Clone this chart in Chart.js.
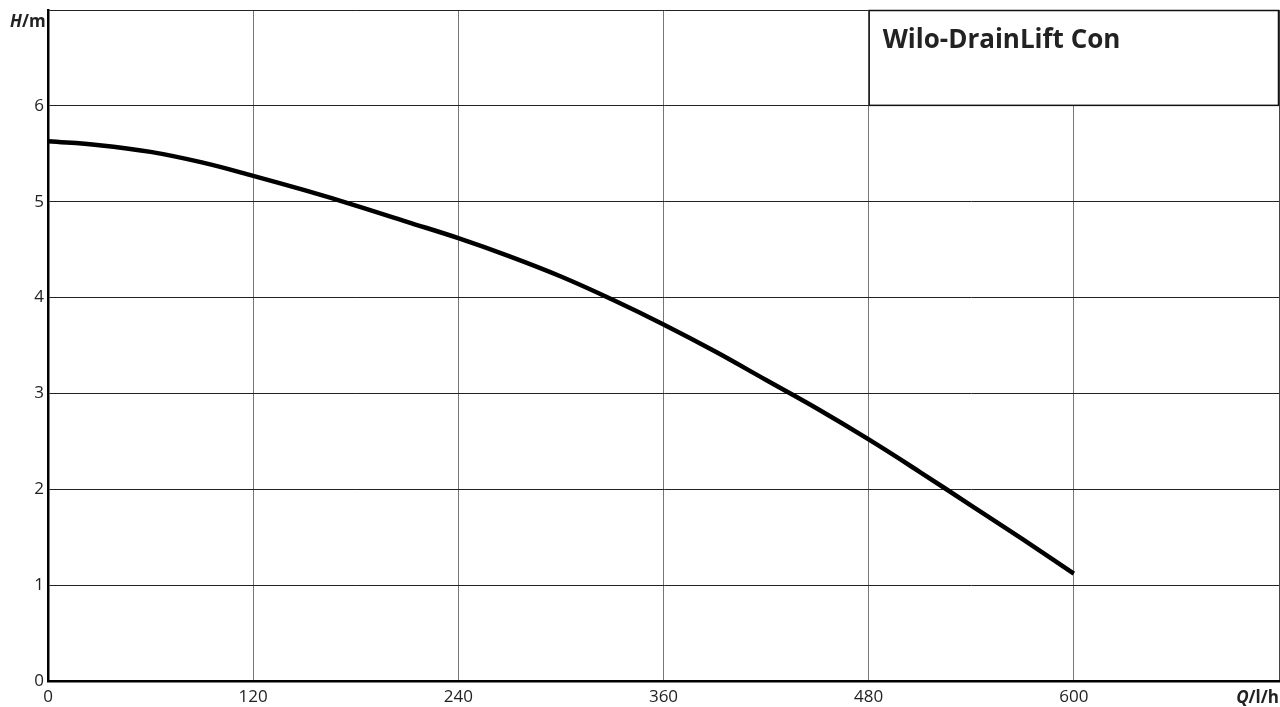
<!DOCTYPE html>
<html>
<head>
<meta charset="utf-8">
<script src="https://cdn.jsdelivr.net/npm/chart.js@4.4.1/dist/chart.umd.min.js"></script>
<style>
  html, body { margin: 0; padding: 0; background: #fff; }
  #wrap { width: 1280px; height: 707px; }
</style>
</head>
<body>
<div id="wrap"><canvas id="pumpChart"></canvas></div>
<script>
// Q in l/h, H in m
const flow = [0, 30, 60, 90, 120, 150, 180, 210, 240, 270, 300, 330, 360, 390, 420, 450, 480, 510, 540, 570, 600];
const head = [5.63, 5.59, 5.52, 5.41, 5.27, 5.12, 4.96, 4.79, 4.62, 4.43, 4.22, 3.98, 3.72, 3.44, 3.14, 2.84, 2.52, 2.18, 1.83, 1.48, 1.12];
const xTicks = [0, 120, 240, 360, 480, 600, 720];
const yTicks = [0, 1, 2, 3, 4, 5, 6, 7];
const title = 'Wilo-DrainLift Con';

const tickFont = { family: 'Open Sans', size: 17 };

const extras = {
    id: 'extras',
    afterDraw(chart) {
        const c = chart.ctx;
        const x = chart.scales.x, y = chart.scales.y;
        // title box
        const bx = x.getPixelForValue(480), by = y.getPixelForValue(7);
        const bw = x.getPixelForValue(720) - bx, bh = y.getPixelForValue(6) - by;
        c.save();
        c.fillStyle = '#fff';
        c.fillRect(bx, by, bw, bh);
        c.strokeStyle = '#111';
        c.lineWidth = 1.5;
        c.strokeRect(bx + 0.5, by + 0.5, bw - 1, bh - 1);
        c.fillStyle = '#222';
        c.font = 'bold 26px "Open Sans"';
        c.textBaseline = 'alphabetic';
        c.textAlign = 'left';
        c.fillText(title, bx + 14, by + 38);

        // axis titles
        c.font = 'italic bold 17px "Open Sans"';
        c.fillText('H', 10, 27);
        let w = c.measureText('H').width;
        c.font = 'bold 17px "Open Sans"';
        c.fillText('/m', 10 + w, 27);

        c.font = 'bold 17px "Open Sans"';
        const tail = '/l/h';
        const tw = c.measureText(tail).width;
        c.textAlign = 'right';
        c.fillText(tail, 1279, 703);
        c.font = 'italic bold 17px "Open Sans"';
        c.fillText('Q', 1279 - tw, 703);
        c.restore();
    }
};

new Chart(document.getElementById('pumpChart'), {
    type: 'line',
    data: {
        datasets: [{
            data: flow.map((q, i) => ({ x: q, y: head[i] })),
            borderColor: '#000',
            borderWidth: 4.5,
            pointRadius: 0,
            tension: 0.4,
            fill: false
        }]
    },
    options: {
        responsive: true,
        maintainAspectRatio: false,
        animation: false,
        layout: { padding: { top: 10, right: 1, left: 0, bottom: 0 } },
        plugins: { legend: { display: false }, tooltip: { enabled: false } },
        scales: {
            x: {
                type: 'linear',
                min: 0,
                max: 720,
                afterBuildTicks(s) { s.ticks = xTicks.map(v => ({ value: v })); },
                afterFit(s) { s.height = 26; s.paddingLeft = 0; s.paddingRight = 0; },
                ticks: {
                    font: tickFont,
                    color: '#222',
                    padding: 6,
                    maxRotation: 0,
                    callback: v => v === 720 ? '' : v
                },
                grid: {
                    drawTicks: false,
                    color: ctx => ctx.tick && ctx.tick.value === 720 ? '#444' : '#777',
                    lineWidth: 1
                },
                border: { color: '#000', width: 2.5 }
            },
            y: {
                min: 0,
                max: 7,
                afterBuildTicks(s) { s.ticks = yTicks.map(v => ({ value: v })); },
                afterFit(s) { s.width = 48; s.paddingTop = 0; s.paddingBottom = 0; },
                ticks: {
                    font: tickFont,
                    color: '#222',
                    padding: 4,
                    callback: v => v === 7 ? '' : v
                },
                grid: {
                    drawTicks: false,
                    color: '#222',
                    lineWidth: 1
                },
                border: { color: '#000', width: 2.5 }
            }
        }
    },
    plugins: [extras]
});
</script>
</body>
</html>
